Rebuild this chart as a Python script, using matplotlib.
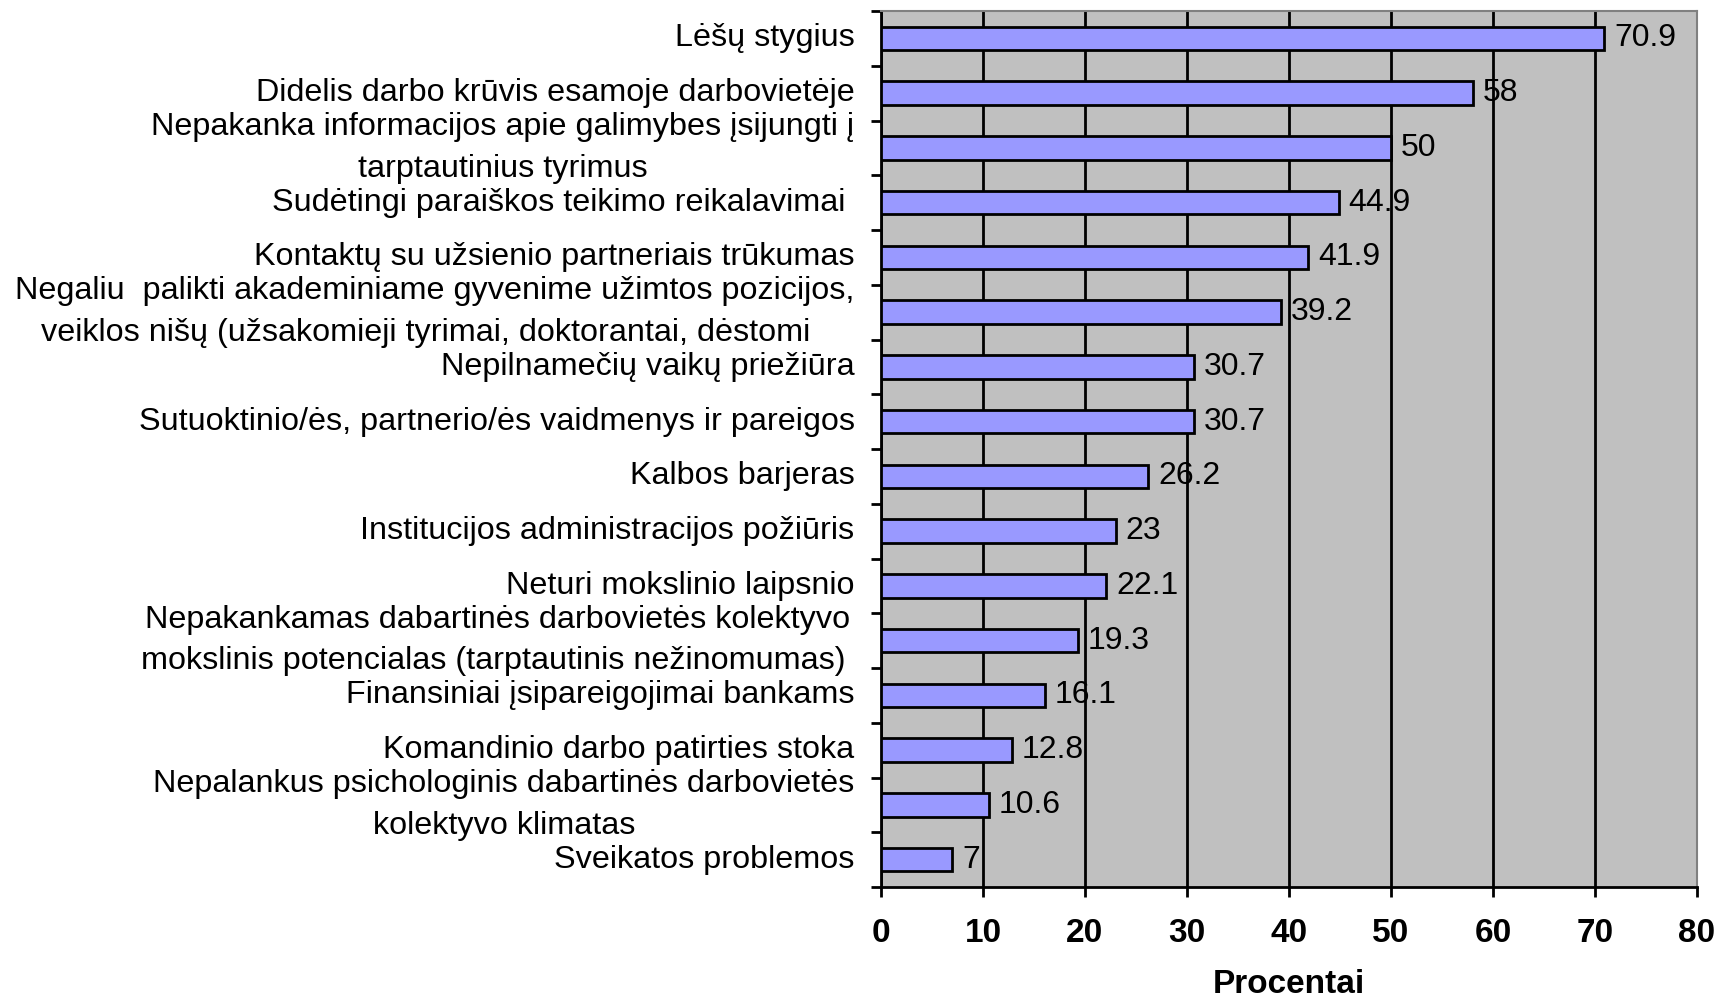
import numpy as np
import matplotlib
matplotlib.use("Agg")
import matplotlib.pyplot as plt

plt.rcParams['font.family'] = ['Liberation Sans', 'DejaVu Sans']

# categories top -> bottom
categories = [
    "Lėšų stygius",
    "Didelis darbo krūvis esamoje darbovietėje",
    "Nepakanka informacijos apie galimybes įsijungti į\ntarptautinius tyrimus",
    "Sudėtingi paraiškos teikimo reikalavimai ",
    "Kontaktų su užsienio partneriais trūkumas",
    "Negaliu  palikti akademiniame gyvenime užimtos pozicijos,\nveiklos nišų (užsakomieji tyrimai, doktorantai, dėstomi  ",
    "Nepilnamečių vaikų priežiūra",
    "Sutuoktinio/ės, partnerio/ės vaidmenys ir pareigos",
    "Kalbos barjeras",
    "Institucijos administracijos požiūris",
    "Neturi mokslinio laipsnio",
    "Nepakankamas dabartinės darbovietės kolektyvo\nmokslinis potencialas (tarptautinis nežinomumas) ",
    "Finansiniai įsipareigojimai bankams",
    "Komandinio darbo patirties stoka",
    "Nepalankus psichologinis dabartinės darbovietės\nkolektyvo klimatas",
    "Sveikatos problemos",
]
values = [70.9, 58, 50, 44.9, 41.9, 39.2, 30.7, 30.7, 26.2, 23, 22.1, 19.3, 16.1, 12.8, 10.6, 7]
value_labels = ["70.9", "58", "50", "44.9", "41.9", "39.2", "30.7", "30.7", "26.2", "23",
                "22.1", "19.3", "16.1", "12.8", "10.6", "7"]
x_ticks = [0, 10, 20, 30, 40, 50, 60, 70, 80]

fig = plt.figure(figsize=(17.22, 10), dpi=100)
ax = fig.add_axes([0.5116, 0.113, 0.4739, 0.876])
ax.set_facecolor('#C0C0C0')

y = np.arange(len(categories))
ax.barh(y, values, height=0.43, color='#9999FF', edgecolor='black', linewidth=2, zorder=3)

for yi, v, lab in zip(y, values, value_labels):
    ax.annotate(lab, (v, yi), xytext=(7, 0), textcoords='offset points',
                va='center', ha='left', fontsize=23, zorder=4)

ax.set_xlim(0, 80)
ax.set_ylim(len(categories) - 0.5, -0.5)
ax.set_xticks(x_ticks)
ax.set_xticklabels([str(t) for t in x_ticks], fontsize=24, fontweight='bold')
ax.xaxis.grid(True, color='black', linewidth=2, zorder=1)
ax.set_axisbelow(True)

ax.set_yticks(y)
ax.set_yticklabels(categories, fontsize=23.3, multialignment='center',
                   linespacing=1.5, va='center')
ax.set_yticks(np.arange(len(categories) + 1) - 0.5, minor=True)
ax.tick_params(axis='y', which='major', length=0, pad=19)
ax.tick_params(axis='y', which='minor', length=7, width=2, direction='out')
ax.tick_params(axis='x', which='major', length=7, width=2, direction='out', pad=15)

for side in ['left', 'bottom']:
    ax.spines[side].set_linewidth(2)
    ax.spines[side].set_color('black')
for side in ['top', 'right']:
    ax.spines[side].set_linewidth(1.5)
    ax.spines[side].set_color('#808080')

ax.set_xlabel("Procentai", fontsize=24, fontweight='bold', labelpad=15)

fig.savefig("out.png", dpi=100)
